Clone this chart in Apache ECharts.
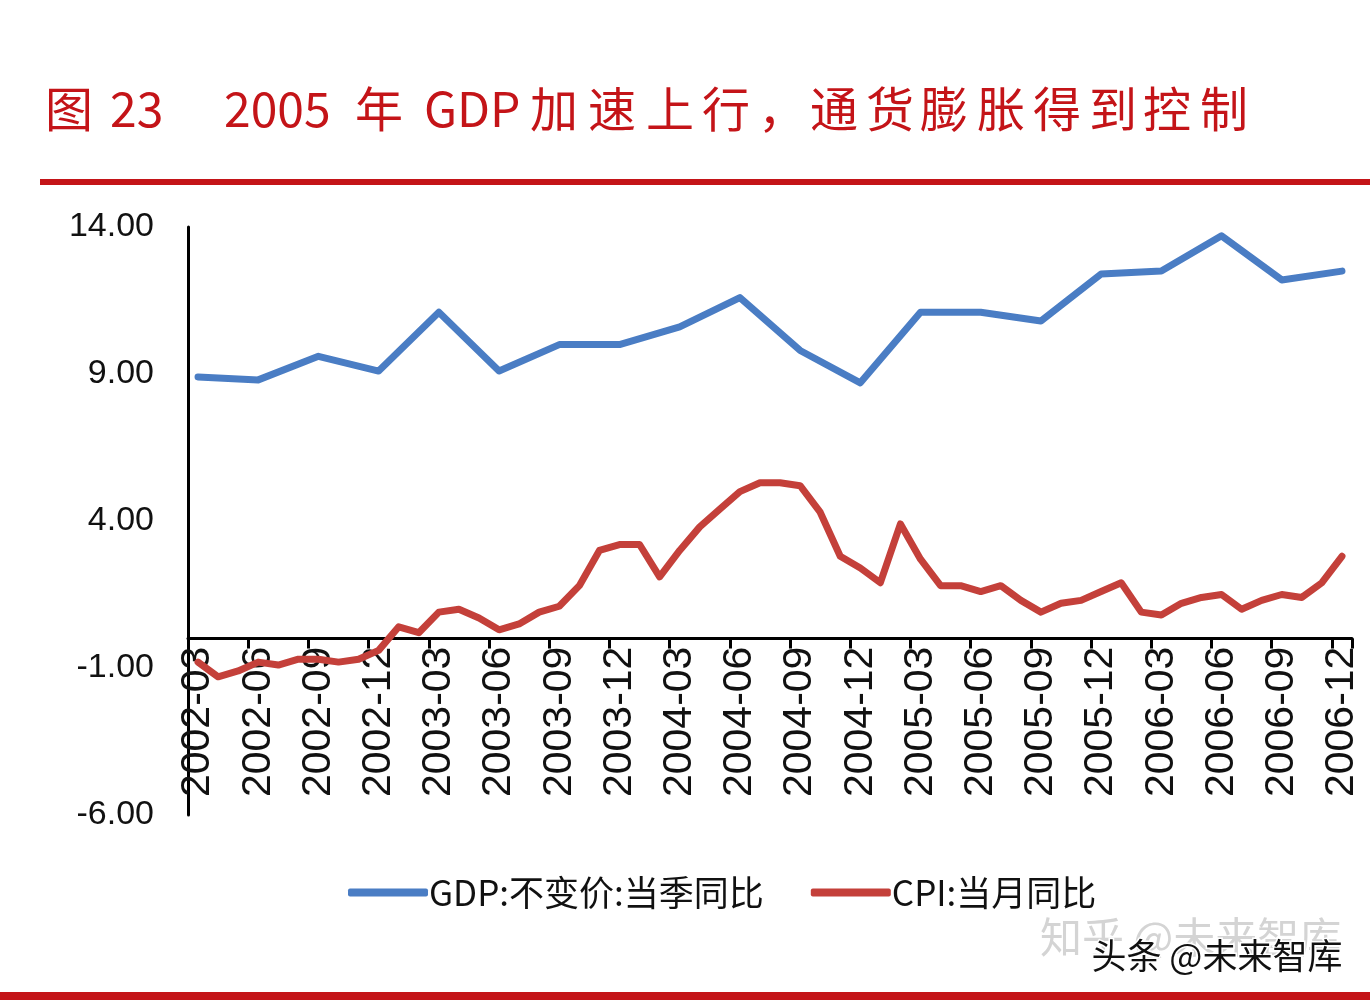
<!DOCTYPE html>
<html>
<head>
<meta charset="utf-8">
<script src="https://cdn.jsdelivr.net/npm/echarts@6/dist/echarts.min.js"></script>
<style>
html,body{margin:0;padding:0;background:#fff;}
#c{width:1370px;height:1002px;}
</style>
</head>
<body>
<div id="c"></div>
<script>
// ---- data ----
const months = [
 '2002-03','2002-04','2002-05','2002-06','2002-07','2002-08','2002-09','2002-10','2002-11','2002-12',
 '2003-01','2003-02','2003-03','2003-04','2003-05','2003-06','2003-07','2003-08','2003-09','2003-10','2003-11','2003-12',
 '2004-01','2004-02','2004-03','2004-04','2004-05','2004-06','2004-07','2004-08','2004-09','2004-10','2004-11','2004-12',
 '2005-01','2005-02','2005-03','2005-04','2005-05','2005-06','2005-07','2005-08','2005-09','2005-10','2005-11','2005-12',
 '2006-01','2006-02','2006-03','2006-04','2006-05','2006-06','2006-07','2006-08','2006-09','2006-10','2006-11','2006-12'
];
const cpi = [
 -0.8,-1.3,-1.1,-0.8,-0.9,-0.7,-0.7,-0.8,-0.7,-0.4,
 0.4,0.2,0.9,1.0,0.7,0.3,0.5,0.9,1.1,1.8,3.0,3.2,
 3.2,2.1,3.0,3.8,4.4,5.0,5.3,5.3,5.2,4.3,2.8,2.4,
 1.9,3.9,2.7,1.8,1.8,1.6,1.8,1.3,0.9,1.2,1.3,1.6,
 1.9,0.9,0.8,1.2,1.4,1.5,1.0,1.3,1.5,1.4,1.9,2.8
];
const quarters = [
 '2002-03','2002-06','2002-09','2002-12',
 '2003-03','2003-06','2003-09','2003-12',
 '2004-03','2004-06','2004-09','2004-12',
 '2005-03','2005-06','2005-09','2005-12',
 '2006-03','2006-06','2006-09','2006-12'
];
const gdp = [
 8.9,8.8,9.6,9.1,
 11.1,9.1,10.0,10.0,
 10.6,11.6,9.8,8.7,
 11.1,11.1,10.8,12.4,
 12.5,13.7,12.2,12.5
];
const yTicks = [-6, -1, 4, 9, 14];
const seriesNames = ['GDP:不变价:当季同比', 'CPI:当月同比'];
const titleParts = [
 ['图', 45], ['23', 110], ['2005', 224], ['年', 355], ['GDP', 424],
 ['加', 530], ['速', 588], ['上', 646], ['行', 702], ['，', 758],
 ['通', 810], ['货', 866], ['膨', 920], ['胀', 977], ['得', 1033], ['到', 1089], ['控', 1143], ['制', 1200]
];

const RED = '#C41418';
const GRID_TOP = 227, GRID_BOTTOM = 187, H = 1002;
const yMin = yTicks[0], yMax = yTicks[yTicks.length - 1];
const plotH = H - GRID_TOP - GRID_BOTTOM;
const zeroOffset = -plotH * (0 - yMin) / (yMax - yMin);

const chart = echarts.init(document.getElementById('c'), null, {renderer: 'canvas'});

const graphics = titleParts.map(p => ({
  type: 'text', left: p[1], top: 85,
  style: {text: p[0], fill: RED, font: '48px "Noto Sans CJK SC", sans-serif'}
}));
graphics.push(
  {type: 'rect', shape: {x: 40, y: 179, width: 1330, height: 6}, style: {fill: RED}},
  {type: 'rect', shape: {x: 0, y: 992, width: 1370, height: 8}, style: {fill: RED}},
  {type: 'text', left: 1040, top: 916, style: {text: '知乎 @未来智库', fill: '#d4d4d4', font: '42px "Noto Sans CJK SC", sans-serif'}},
  {type: 'text', left: 1090, top: 937, style: {text: '头条 @未来智库', fill: '#111', stroke: '#fff', lineWidth: 3, font: '35px "Noto Sans CJK SC", sans-serif'}}
);

chart.setOption({
  animation: false,
  backgroundColor: '#fff',
  grid: {left: 188, right: 18, top: GRID_TOP, bottom: GRID_BOTTOM, containLabel: false},
  legend: {
    left: 343, top: 870,
    icon: 'roundRect', itemWidth: 80, itemHeight: 8, itemGap: 47,
    textStyle: {fontSize: 35, color: '#111', fontFamily: '"Noto Sans CJK SC", sans-serif', padding: [0,0,0,-4]},
    data: seriesNames
  },
  xAxis: {
    type: 'category', data: months, boundaryGap: true,
    position: 'bottom', offset: zeroOffset,
    axisLine: {onZero: false, lineStyle: {color: '#000', width: 3}},
    axisTick: {show: true, interval: 2, length: 10, lineStyle: {color: '#000', width: 3}},
    axisLabel: {interval: 2, rotate: 90, margin: 8, fontSize: 41, color: '#111', fontFamily: '"Liberation Sans", Arial, sans-serif'},
    splitLine: {show: false}
  },
  yAxis: {
    type: 'value', min: yMin, max: yMax, interval: 5,
    axisLine: {show: true, lineStyle: {color: '#000', width: 3}},
    axisTick: {show: false},
    splitLine: {show: false},
    axisLabel: {margin: 34, fontSize: 34, color: '#111', fontFamily: '"Liberation Sans", Arial, sans-serif',
      formatter: v => v.toFixed(2)}
  },
  series: [
    {
      name: seriesNames[0], type: 'line', symbol: 'none', connectNulls: true,
      data: quarters.map((q, i) => [q, gdp[i]]),
      itemStyle: {color: '#4A7DC4'},
      lineStyle: {color: '#4A7DC4', width: 7, join: 'round', cap: 'round'}
    },
    {
      name: seriesNames[1], type: 'line', symbol: 'none',
      data: cpi,
      itemStyle: {color: '#C4403A'},
      lineStyle: {color: '#C4403A', width: 7, join: 'round', cap: 'round'}
    }
  ],
  graphic: graphics
});
</script>
</body>
</html>
